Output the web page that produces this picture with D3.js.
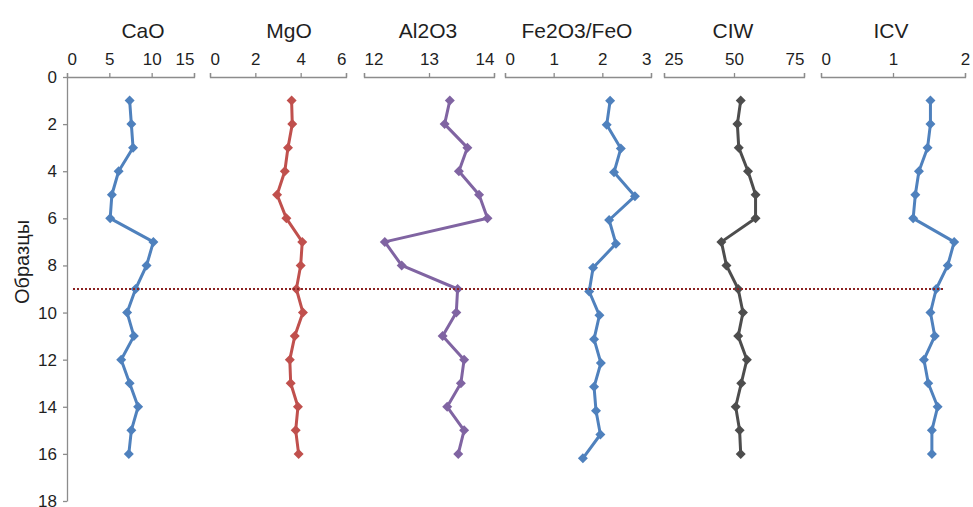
<!DOCTYPE html>
<html>
<head>
<meta charset="utf-8">
<script src="https://cdn.jsdelivr.net/npm/d3@7"></script>
<style>
    body { margin: 0; background: #ffffff; }
    #chart { width: 973px; height: 507px; }
    text { font-family: "Liberation Sans", Arial, sans-serif; fill: #1f1f1f; }
</style>
</head>
<body>
<div id="chart"></div>
<script>
// sample numbers (depth axis)
var samples = [1, 2, 3, 4, 5, 6, 7, 8, 9, 10, 11, 12, 13, 14, 15, 16];
var sample_ticks = [0, 2, 4, 6, 8, 10, 12, 14, 16, 18];
var boundary_sample = 9;

var cao_values = [7.4, 7.6, 7.8, 6.1, 5.3, 5.1, 10.2, 9.4, 8.1, 7.1, 7.9, 6.4, 7.4, 8.4, 7.6, 7.3];
var mgo_values = [3.6, 3.63, 3.44, 3.3, 2.96, 3.37, 4.07, 4.0, 3.81, 4.1, 3.74, 3.52, 3.56, 3.88, 3.78, 3.91];
var al2o3_values = [13.32, 13.24, 13.59, 13.46, 13.77, 13.9, 12.32, 12.58, 13.44, 13.42, 13.21, 13.54, 13.49, 13.28, 13.54, 13.45];
var fe_ratio_values = [2.16, 2.09, 2.38, 2.24, 2.67, 2.14, 2.28, 1.81, 1.73, 1.94, 1.83, 1.97, 1.83, 1.87, 1.96, 1.6];
var ciw_values = [52.4, 51.2, 51.7, 55.0, 57.7, 57.7, 45.5, 47.3, 51.5, 53.2, 51.5, 54.6, 52.6, 50.6, 52.0, 52.4];
var icv_values = [1.52, 1.52, 1.48, 1.36, 1.31, 1.28, 1.85, 1.76, 1.6, 1.52, 1.58, 1.43, 1.49, 1.62, 1.54, 1.54];

var cao_ticks = [0, 5, 10, 15];
var mgo_ticks = [0, 2, 4, 6];
var al2o3_ticks = [12, 13, 14];
var fe_ratio_ticks = [0, 1, 2, 3];
var ciw_ticks = [25, 50, 75];
var icv_ticks = [0, 1, 2];

var panel_names = ["CaO", "MgO", "Al2O3", "Fe2O3/FeO", "CIW", "ICV"];

// layout of every small chart: x range, title position, y bottom, colour
var panels = [
    { name: panel_names[0], values: cao_values, ticks: cao_ticks, domain: [0, 15], range: [67, 194], title_x: 143, y_bottom: 501, color: "#4f81bd", pin_last: true },
    { name: panel_names[1], values: mgo_values, ticks: mgo_ticks, domain: [0, 6], range: [210, 346], title_x: 289, y_bottom: 501, color: "#c0504d", pin_last: true },
    { name: panel_names[2], values: al2o3_values, ticks: al2o3_ticks, domain: [12, 14], range: [364, 494], title_x: 428, y_bottom: 501, color: "#8064a2", pin_last: true },
    { name: panel_names[3], values: fe_ratio_values, ticks: fe_ratio_ticks, domain: [0, 3], range: [505, 651], title_x: 577, y_bottom: 506, color: "#4f81bd", pin_last: true },
    { name: panel_names[4], values: ciw_values, ticks: ciw_ticks, domain: [25, 75], range: [664, 804], title_x: 733, y_bottom: 501, color: "#4d4d4d", pin_last: true },
    { name: panel_names[5], values: icv_values, ticks: icv_ticks, domain: [0, 2], range: [821, 965], title_x: 891, y_bottom: 501, color: "#4f81bd", pin_last: false }
];

var axis_color = "#8c8c8c";
var axis_top = 77;

var svg = d3.select("#chart").append("svg")
            .attr("width", 973)
            .attr("height", 507);

var y_scale = d3.scaleLinear().domain([0, 18]).range([axis_top, 501]);

draw_depth_axis(svg, y_scale);

for (var index in panels)
{
    draw_panel(svg, panels[index]);
}

// boundary line between the two parts of the section
svg.append("line")
   .attr("x1", 73)
   .attr("x2", 943)
   .attr("y1", y_scale(boundary_sample))
   .attr("y2", y_scale(boundary_sample))
   .attr("stroke", "#8b2323")
   .attr("stroke-width", 2)
   .attr("stroke-dasharray", "2,2");

function draw_depth_axis(root, scale)
{
    var axis = d3.axisLeft(scale)
                 .tickValues(sample_ticks)
                 .tickFormat(d3.format("d"))
                 .tickSize(4)
                 .tickSizeOuter(0)
                 .tickPadding(6);

    var group = root.append("g")
                    .attr("transform", "translate(67,0)")
                    .call(axis);

    style_axis(group);

    root.append("text")
        .attr("transform", "translate(29,262)rotate(-90)")
        .attr("text-anchor", "middle")
        .style("font-size", "20px")
        .text("Образцы");
}

function draw_panel(root, panel)
{
    var x_scale = d3.scaleLinear().domain(panel.domain).range(panel.range);
    var panel_y = d3.scaleLinear().domain([0, 18]).range([axis_top, panel.y_bottom]);

    var axis = d3.axisTop(x_scale)
                 .tickValues(panel.ticks)
                 .tickFormat(d3.format("d"))
                 .tickSize(4)
                 .tickSizeOuter(4)
                 .tickPadding(8);

    var group = root.append("g")
                    .attr("transform", "translate(0," + axis_top + ")")
                    .call(axis);

    style_axis(group);

    // end labels are kept inside the axis span, like the spreadsheet does
    var labels = group.selectAll(".tick text");
    var label_count = labels.size();
    labels.attr("text-anchor", function (d, i) {
        if (i === 0) return "start";
        if (i === label_count - 1 && panel.pin_last) return "end";
        return "middle";
    });

    root.append("text")
        .attr("x", panel.title_x)
        .attr("y", 38)
        .attr("text-anchor", "middle")
        .style("font-size", "21px")
        .text(panel.name);

    var points = [];
    for (var i = 0; i < samples.length; i++)
    {
        points.push([x_scale(panel.values[i]), panel_y(samples[i])]);
    }

    root.append("path")
        .datum(points)
        .attr("d", d3.line())
        .attr("fill", "none")
        .attr("stroke", panel.color)
        .attr("stroke-width", 3)
        .attr("stroke-linejoin", "round");

    var marker = d3.symbol().type(d3.symbolSquare).size(50);

    root.append("g")
        .selectAll("path")
        .data(points)
        .enter()
        .append("path")
        .attr("d", marker)
        .attr("transform", function (d) { return "translate(" + d[0] + "," + d[1] + ")rotate(45)"; })
        .attr("fill", panel.color);
}

function style_axis(group)
{
    group.selectAll("path").attr("stroke", axis_color).attr("stroke-width", 1.3);
    group.selectAll("line").attr("stroke", axis_color).attr("stroke-width", 1.3);
    group.selectAll("text")
         .style("font-size", "17px")
         .style("font-family", "\"Liberation Sans\", Arial, sans-serif")
         .attr("fill", "#1f1f1f");
}
</script>
</body>
</html>
